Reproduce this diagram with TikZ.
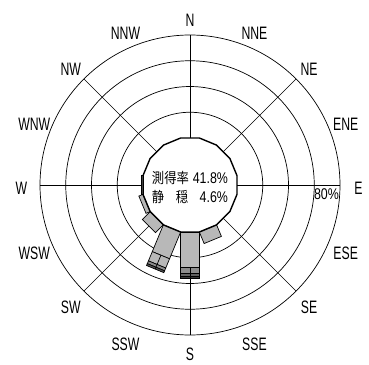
\documentclass[tikz,border=0pt]{standalone}
\usepackage{fontspec}
\newfontfamily\dirfont[FakeStretch=0.68]{Liberation Sans}
\newfontfamily\numfont[FakeStretch=0.8]{Liberation Sans}
\newfontfamily\cjkfont[FakeStretch=0.85]{Noto Sans CJK JP}

\tikzset{
	ring/.style={line width=0.7pt},
	spoke/.style={line width=0.7pt},
	calm/.style={line width=1.4pt},
	bar/.style={draw=black, line width=0.7pt},
	dirlabel/.style={font=\dirfont\fontsize{18}{18}\selectfont, inner sep=0pt, yshift=-3.5pt}
}

\begin{document}
\begin{tikzpicture}[x=1pt,y=1pt]
\useasboundingbox (-190,-179) rectangle (179,185);

\def \rc{47}
\def \rmax{150}
\def \rv{47.93}
\def \hw{9.35}

% rings 20..80%
\foreach \p in {20,40,60,80}
	\draw [ring] (0,0) circle ({\rc+(\rmax-\rc)*\p/80});

\foreach \a in {0,45,...,315}
	\draw [spoke] ({90-\a}:\rc) -- ({90-\a}:\rmax);

% bars: direction / from / to / fill
\foreach \a/\ra/\rb/\f in {180/47/82/black!28, 180/82/88/black!45, 180/88/91/black!62, 180/91/93/black!78,
	202.5/47/76/black!28, 202.5/76/86/black!28, 202.5/86/89/black!45, 202.5/89/91/black!68,
	225/47/58/black!28, 247.5/47/51.5/black!28, 270/47/48.5/black!28, 157.5/47/59.5/black!28}
{
	\begin{scope}[rotate=-\a]
		\draw [bar, fill=\f] (-\hw,\ra) rectangle (\hw,\rb);
	\end{scope}
}
\draw [bar, rotate=-180] (0,82) -- (0,93);
\draw [bar, rotate=-202.5] (0,76) -- (0,91);

% calm circle
\draw [calm] (11.25:\rv) \foreach \k in {1,...,15} { -- ({11.25+22.5*\k}:\rv) } -- cycle;

\foreach \a/\t/\r in {0/N/168.5, 22.5/NNE/168.5, 45/NE/168.5, 67.5/ENE/168.5, 90/E/168.5, 112.5/ESE/168.5, 135/SE/168.5, 157.5/SSE/168.5,
	180/S/166, 202.5/SSW/168.5, 225/SW/168.5, 247.5/WSW/168.5, 270/W/168.5, 292.5/WNW/168.5, 315/NW/168.5, 337.5/NNW/168.5}
{
	\pgfmathsetmacro\ang{90-\a}
	\node (\t) [dirlabel] at (\ang:\r) {\t};
}

\node (rate) [inner sep=0pt] at (0,6.5) {\makebox[76pt]{\cjkfont\fontsize{14.5}{14.5}\selectfont 測得率\hfill\numfont\fontsize{15.5}{15.5}\selectfont 41.8\%}};
\node (calmtext) [inner sep=0pt] at (0,-11.5) {\makebox[76pt]{\cjkfont\fontsize{14.5}{14.5}\selectfont 静\hfill 穏\hfill\numfont\fontsize{15.5}{15.5}\selectfont 4.6\%}};
\node (scale) [inner sep=0pt] at (136.5,-9) {\numfont\fontsize{15.5}{15.5}\selectfont 80\%};
\end{tikzpicture}
\end{document}
